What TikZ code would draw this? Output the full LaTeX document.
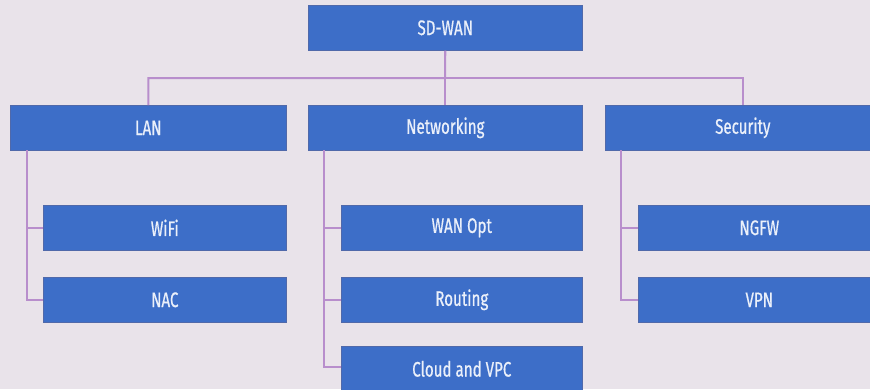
\documentclass[tikz,border=0pt]{standalone}
\usepackage{fontspec}
\setmainfont{Fira Sans}[FakeStretch=0.72,FakeBold=0.6]
\definecolor{bg}{RGB}{233,227,234}
\definecolor{boxblue}{RGB}{61,110,200}
\definecolor{boxedge}{RGB}{80,105,170}
\definecolor{conn}{RGB}{184,142,204}
\definecolor{txt}{RGB}{235,240,250}
\begin{document}
\begin{tikzpicture}[x=1pt,y=-1pt,
  bluebox/.style={fill=boxblue,draw=boxedge,line width=0.6pt,anchor=north west,inner sep=0pt,
    text=txt,font=\fontsize{21}{23}\selectfont},
  link/.style={draw=conn,line width=2pt}]
\useasboundingbox (0,0) rectangle (870,389);
\clip (0,0) rectangle (870,389);
\fill[bg] (0,0) rectangle (870,389);
% connectors first (behind boxes)
\coordinate (bus) at (445,78);
\coordinate (lant) at (27,150);
\coordinate (nett) at (324,150);
\coordinate (sect) at (621,150);
\coordinate (cloudw) at (341,367);
% nodes
\node[bluebox,minimum width=274pt,minimum height=45pt] (sd) at (308,5) {SD-WAN};
\node[bluebox,minimum width=276pt,minimum height=45pt] (lan) at (10,105) {LAN};
\node[bluebox,minimum width=274pt,minimum height=45pt] (net) at (308,105) {Networking};
\node[bluebox,minimum width=275pt,minimum height=45pt] (sec) at (605,105) {Security};
\node[bluebox,minimum width=243pt,minimum height=45pt] (wifi) at (43,205) {WiFi};
\node[bluebox,minimum width=243pt,minimum height=45pt] (nac) at (43,277) {NAC};
\node[bluebox,minimum width=241pt,minimum height=45pt] (wan) at (341,205) {WAN Opt};
\node[bluebox,minimum width=241pt,minimum height=45pt] (rout) at (341,277) {Routing};
\node[bluebox,minimum width=241pt,minimum height=45pt] (cloud) at (341,346) {Cloud and VPC};
\node[bluebox,minimum width=242pt,minimum height=45pt] (ngfw) at (638,205) {NGFW};
\node[bluebox,minimum width=242pt,minimum height=45pt] (vpn) at (638,277) {VPN};
% connectors
\draw[link] (sd.south) -- (net.north);
\draw[link] (sd.south) -- (bus) -| (lan.north);
\draw[link] (bus) -| (sec.north);
\draw[link] (lant) |- (wifi.west);
\draw[link] (lant) |- (nac.west);
\draw[link] (nett) |- (wan.west);
\draw[link] (nett) |- (rout.west);
\draw[link] (nett) |- (cloudw);
\draw[link] (sect) |- (ngfw.west);
\draw[link] (sect) |- (vpn.west);
\end{tikzpicture}
\end{document}
